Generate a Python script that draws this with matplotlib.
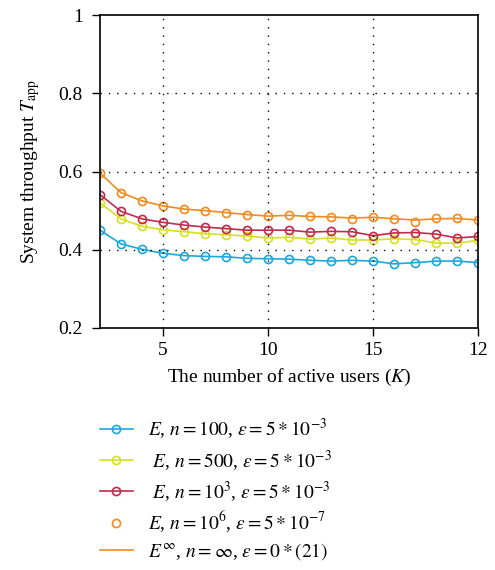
import numpy as np
import matplotlib
matplotlib.use("Agg")
import matplotlib.pyplot as plt

plt.rcParams['font.family'] = ['Liberation Serif', 'DejaVu Serif']
plt.rcParams['mathtext.fontset'] = 'stix'

# data
K = list(range(2, 21))
blue = [0.450, 0.415, 0.401, 0.391, 0.385, 0.383, 0.382, 0.378, 0.377, 0.376,
        0.373, 0.371, 0.373, 0.371, 0.364, 0.367, 0.371, 0.371, 0.367]
yellow = [0.520, 0.479, 0.460, 0.451, 0.446, 0.441, 0.438, 0.435, 0.430, 0.432,
          0.427, 0.430, 0.425, 0.425, 0.428, 0.426, 0.417, 0.417, 0.424]
red = [0.541, 0.498, 0.479, 0.470, 0.463, 0.458, 0.454, 0.450, 0.450, 0.450,
       0.445, 0.447, 0.446, 0.436, 0.443, 0.444, 0.440, 0.430, 0.434]
orange_pts = [0.596, 0.546, 0.525, 0.512, 0.504, 0.500, 0.495, 0.490, 0.485, 0.488,
              0.485, 0.484, 0.479, 0.484, 0.478, 0.472, 0.480, 0.480, 0.475]
orange_line = [0.596, 0.546, 0.525, 0.512, 0.504, 0.500, 0.495, 0.490, 0.486, 0.488,
               0.485, 0.484, 0.481, 0.483, 0.479, 0.476, 0.479, 0.480, 0.476]

labels = [r'$E$, $n = 100$, $\varepsilon = 5*10^{-3}$',
          r' $E$, $n = 500$, $\varepsilon = 5*10^{-3}$',
          r' $E$, $n = 10^{3}$, $\varepsilon = 5*10^{-3}$',
          r'$E$, $n = 10^{6}$, $\varepsilon = 5*10^{-7}$',
          r'$E^{\infty}$, $n = \infty$, $\varepsilon = 0*(21)$']
colors = ['#1ba8da', '#d6e020', '#c12a4c', '#f28a1f']

fig = plt.figure(figsize=(4.95, 5.70), dpi=100)
ax = fig.add_axes([0.202, 0.4246, 0.764, 0.549])

mk = dict(marker='o', markersize=5.8, markerfacecolor='none', markeredgewidth=1.2)
h1, = ax.plot(K, blue, color=colors[0], lw=1.2, **mk)
h2, = ax.plot(K, yellow, color=colors[1], lw=1.2, **mk)
h3, = ax.plot(K, red, color=colors[2], lw=1.2, **mk)
h5, = ax.plot(K, orange_line, color=colors[3], lw=1.2)
h4, = ax.plot(K, orange_pts, color=colors[3], lw=0, **mk)

ax.set_xlim(2, 20)
ax.set_ylim(0.2, 1)
ax.set_xticks([5, 10, 15, 20])
ax.set_xticklabels(['5', '10', '15', '12'])
ax.set_yticks([0.2, 0.4, 0.6, 0.8, 1])
ax.set_yticklabels(['0.2', '0.4', '0.6', '0.8', '1'])
ax.tick_params(direction='out', length=5.8, width=1, labelsize=14,
               top=False, right=False)
ax.tick_params(axis='y', pad=6.5)
ax.tick_params(axis='x', pad=4)
for x in [5, 10, 15]:
    ax.axvline(x, color='black', ls=(0, (1, 5)), lw=1)
for y in [0.4, 0.6, 0.8]:
    ax.axhline(y, color='black', ls=(0, (1, 5)), lw=1)
for s in ax.spines.values():
    s.set_linewidth(1.2)

ax.set_xlabel('The number of active users ($K$)', fontsize=14, labelpad=6)
ax.set_ylabel(r'System throughput $T_{\mathrm{app}}$', fontsize=14, labelpad=12)

fig.legend([h1, h2, h3, h4, h5], labels, loc='upper left',
           bbox_to_anchor=(0.166, 0.30), frameon=False, fontsize=14,
           handlelength=1.7, labelspacing=0.32, handletextpad=0.8)

fig.savefig('out.png', dpi=100)
plt.close()
